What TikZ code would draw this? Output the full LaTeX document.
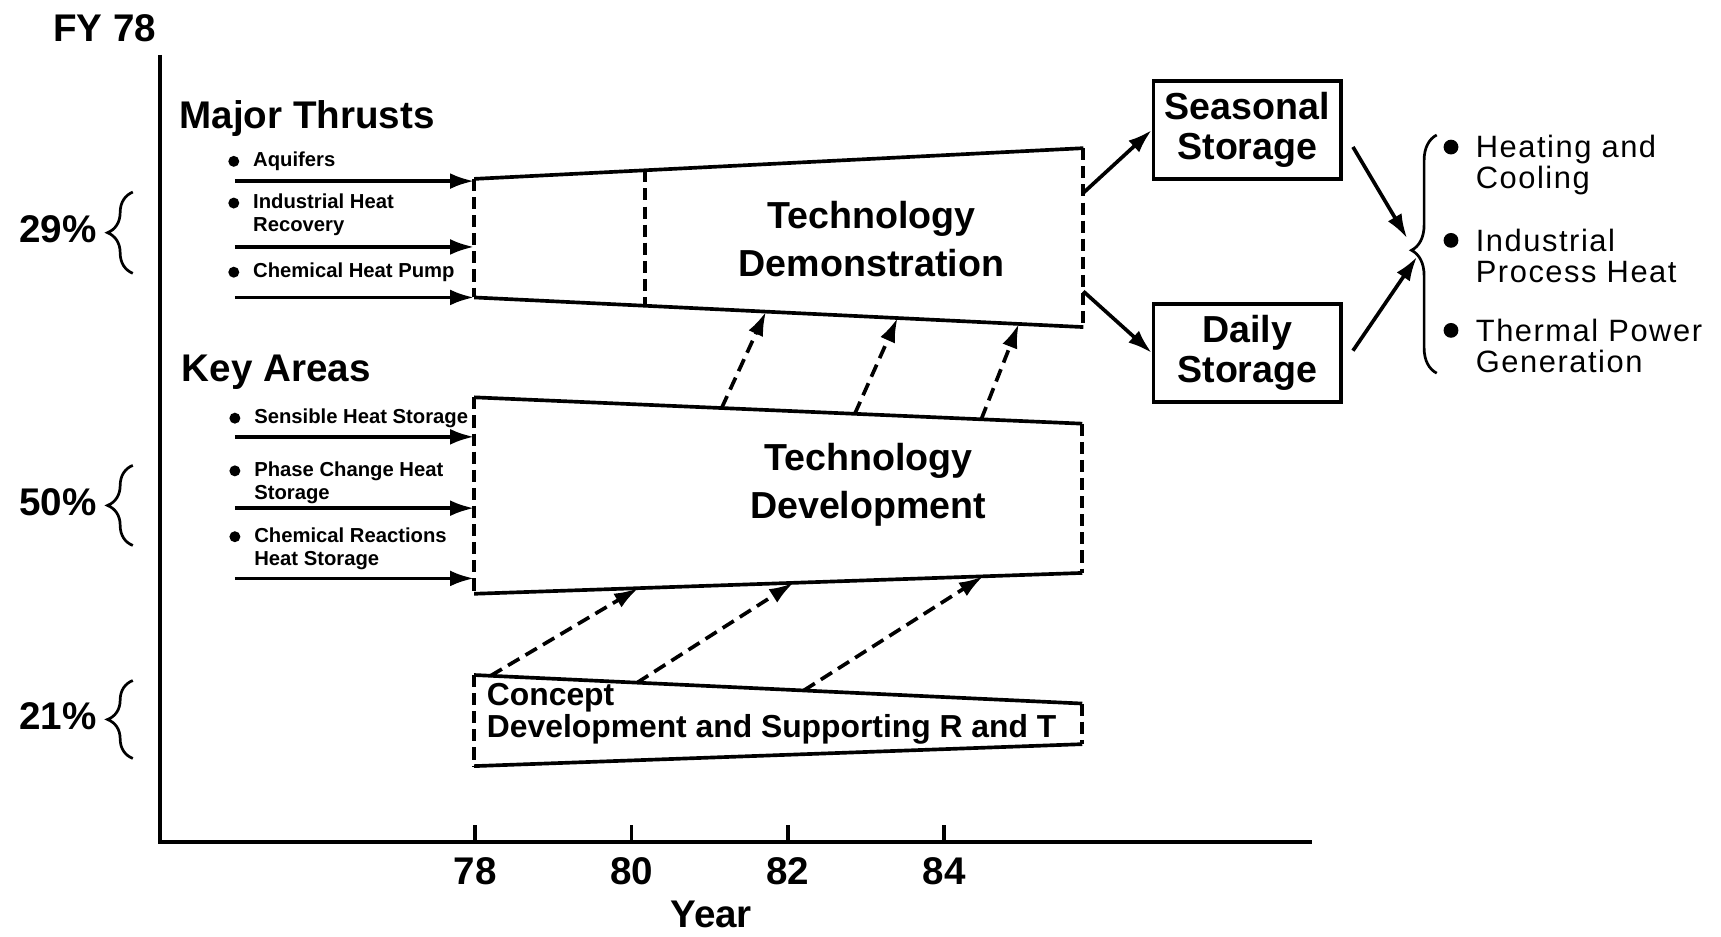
\documentclass[tikz,border=0pt]{standalone}
\usepackage{fontspec}
\setmainfont{Liberation Sans}
\newfontfamily\widesans[LetterSpace=5]{Liberation Sans}
\usetikzlibrary{arrows.meta,calc,decorations.pathreplacing}
\tikzset{
  arr/.style={-{Latex[length=4.4mm,width=2.9mm]}},
  darr/.style={arr,dash pattern=on 2.4mm off 1.3mm},
  dsh/.style={dash pattern=on 2.2mm off 1.1mm},
  hd/.style={font=\bfseries\fontsize{20}{24}\selectfont,inner sep=0pt},
  itm/.style={font=\bfseries\fontsize{10.5}{12}\selectfont,inner sep=0pt,anchor=base west,align=left},
  lst/.style={font=\widesans\fontsize{16}{16}\selectfont,inner sep=0pt,anchor=base west,align=left},
  phase/.style={align=center,inner sep=0pt,font=\bfseries\fontsize{19.5}{25}\selectfont},
  stg/.style={draw,minimum width=34.2mm,minimum height=17.8mm,inner sep=0pt,align=center,
    font=\bfseries\fontsize{19.5}{20.5}\selectfont},
  brc/.style={decorate,decoration={brace,amplitude=4.6mm},line width=1.4pt}
}
\begin{document}
\begin{tikzpicture}[x=0.2mm,y=-0.2mm,line width=1.9pt]
\useasboundingbox (0,0) rectangle (1568,853);
\draw (146,50) -- (146,767) -- (1195,767);
\foreach \x in {78,80,...,84} {
  \draw ({433+71.2*(\x-78)},767) -- ++(0,-15);
  \node[hd,anchor=base] (yr\x) at ({433+71.2*(\x-78)},806) {\x};
}
\node[hd,anchor=base] (year) at (648,845) {Year};
\node[hd,anchor=base west] (fy) at (47,38) {FY 78};
\node[hd,anchor=base west] (major) at (162,117) {Major Thrusts};
\node[hd,anchor=base west] (key) at (164,348) {Key Areas};
\foreach \p/\lo/\hi in {29/175/249,50/424/497,21/620/691} {
  \node[hd,anchor=base west] (p\p) at (16,{(\lo+\hi)/2+9}) {\p\%};
  \draw[brc] (121,\hi) -- (121,\lo);
}
\coordinate (tTL) at (432,163); \coordinate (tTR) at (987,135);
\coordinate (tBR) at (987,298); \coordinate (tBL) at (432,271);
\coordinate (mTL) at (432,362); \coordinate (mTR) at (986,386);
\coordinate (mBR) at (986,522); \coordinate (mBL) at (432,541);
\coordinate (cTL) at (432,615); \coordinate (cTR) at (986,641);
\coordinate (cBR) at (986,678); \coordinate (cBL) at (432,698);
\draw (tTL) -- (tTR) (tBL) -- (tBR) (mTL) -- (mTR) (mBL) -- (mBR) (cTL) -- (cTR) (cBL) -- (cBR);
\draw[dsh] (tTL) -- (tBL) (tTR) -- (tBR) (mTL) -- (mBL) (mTR) -- (mBR) (cTL) -- (cBL) (cTR) -- (cBR)
  ($(tTL)!.28!(tTR)$) -- ($(tBL)!.28!(tBR)$);
\foreach \y/\b/\l/\t [count=\i] in {165/152/152/Aquifers,225/190/211/{Industrial Heat\\Recovery},
    271/253/253/Chemical Heat Pump} {
  \fill (213,\b-5) circle (1mm);
  \node[itm] (lt\i) at (229,\l) {\t};
  \draw[arr] (214,\y) coordinate (st\i) -- (tTL |- st\i);
}
\foreach \y/\b/\l/\t [count=\i] in {398/386/386/Sensible Heat Storage,463/434/455/{Phase Change Heat\\Storage},
    527/494/515/{Chemical Reactions\\Heat Storage}} {
  \fill (214,\b-5) circle (1mm);
  \node[itm] (lm\i) at (230,\l) {\t};
  \draw[arr] (214,\y) coordinate (sm\i) -- (mTL |- sm\i);
}
\foreach \s/\e in {.407/.479,.626/.695,.834/.894}
  \draw[darr] ($(mTL)!\s!(mTR)$) -- ($(tBL)!\e!(tBR)$);
\foreach \s/\e in {.027/.27,.268/.525,.542/.837}
  \draw[darr] ($(cTL)!\s!(cTR)$) -- ($(mBL)!\e!(mBR)$);
\node[phase] (demo) at (794,218) {Technology\\Demonstration};
\node[phase] (devel) at (791,442) {Technology\\Development};
\node[anchor=base west,align=left,inner sep=0pt,font=\bfseries\fontsize{16.5}{15}\selectfont]
  (concept) at (442,672) {Concept\\Development and Supporting R and T};
\node[stg] (seas) at (1136.5,118.5) {Seasonal\\Storage};
\node[stg] (daily) at (1136.5,321.5) {Daily\\Storage};
\draw[arr] ($(tTR)!.25!(tBR)$) -- (seas.west);
\draw[arr] ($(tTR)!.8!(tBR)$) -- (daily.west);
\draw[brc,decoration={aspect=.516}] (1309,340) -- (1309,123);
\coordinate (tipA) at (1282,217); \coordinate (tipB) at (1291,234);
\coordinate (sA) at ($(seas.-10)+(9,0)$); \coordinate (sB) at ($(daily.east)+(9,-2)$);
\draw[arr] (sA) -- (tipA);
\draw[arr] (sB) -- (tipB);
\foreach \y/\t [count=\i] in {144/{Heating and\\Cooling},229/{Industrial\\Process Heat},311/{Thermal Power\\Generation}} {
  \fill (1322,\y-10) circle (1.35mm);
  \node[lst] (use\i) at (1343,\y+28) {\t};
}
\end{tikzpicture}
\end{document}
